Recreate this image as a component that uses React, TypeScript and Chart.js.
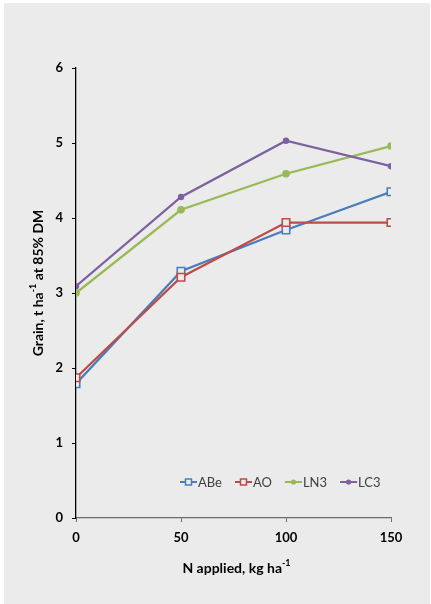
import React, { useEffect, useRef } from 'react';
import { Chart, registerables } from 'chart.js';

Chart.register(...registerables);

// ---- data ----
const nApplied = [0, 50, 100, 150];
const seriesNames = ['ABe', 'AO', 'LN3', 'LC3'];
const abeValues = [1.79, 3.29, 3.84, 4.35];
const aoValues = [1.87, 3.21, 3.94, 3.94];
const ln3Values = [3.0, 4.11, 4.59, 4.96];
const lc3Values = [3.09, 4.28, 5.03, 4.69];
const xTickValues = [0, 50, 100, 150];
const yTickValues = [0, 1, 2, 3, 4, 5, 6];
const yTitleParts = ['Grain, t ha', '-1', ' at 85% DM'];
const xTitleParts = ['N applied, kg ha', '-1', ''];

const seriesColors = ['#4a7ebb', '#be4b48', '#98b954', '#7d60a0'];
const seriesStyles = ['rect', 'rect', 'circle', 'circle'];
const BG = '#eaebea';
const FONT = 'Lato, "Liberation Sans", sans-serif';

function drawParts(ctx: CanvasRenderingContext2D, parts: string[], cx: number, cy: number) {
  const mainFont = `bold 14px ${FONT}`;
  const supFont = `bold 9px ${FONT}`;
  ctx.font = mainFont;
  const w0 = ctx.measureText(parts[0]).width;
  const w2 = ctx.measureText(parts[2]).width;
  ctx.font = supFont;
  const w1 = ctx.measureText(parts[1]).width;
  const total = w0 + w1 + w2;
  let x = cx - total / 2;
  ctx.fillStyle = '#000';
  ctx.textBaseline = 'middle';
  ctx.textAlign = 'left';
  ctx.font = mainFont;
  ctx.fillText(parts[0], x, cy);
  x += w0;
  ctx.font = supFont;
  ctx.fillText(parts[1], x, cy - 5);
  x += w1;
  ctx.font = mainFont;
  ctx.fillText(parts[2], x, cy);
}

const titlePlugin = {
  id: 'customTitles',
  afterDraw(chart: any) {
    const ctx = chart.ctx as CanvasRenderingContext2D;
    const area = chart.chartArea;
    ctx.save();
    drawParts(ctx, xTitleParts, (area.left + area.right) / 2 + 3, area.bottom + 50);
    ctx.translate(38, (area.top + area.bottom) / 2 - 10);
    ctx.rotate(-Math.PI / 2);
    drawParts(ctx, yTitleParts, 0, 0);
    ctx.restore();
  },
};

const legendPlugin = {
  id: 'insideLegend',
  afterDraw(chart: any) {
    const ctx = chart.ctx as CanvasRenderingContext2D;
    const area = chart.chartArea;
    const y = area.bottom - 36;
    let x = area.left + 104;
    ctx.save();
    ctx.font = `13px ${FONT}`;
    ctx.textBaseline = 'middle';
    ctx.textAlign = 'left';
    chart.data.datasets.forEach((ds: any) => {
      const color = ds.borderColor;
      ctx.strokeStyle = color;
      ctx.lineWidth = 2;
      ctx.beginPath();
      ctx.moveTo(x, y);
      ctx.lineTo(x + 17, y);
      ctx.stroke();
      const mx = x + 8.5;
      if (ds.pointStyle === 'rect') {
        ctx.fillStyle = BG;
        ctx.lineWidth = 1.5;
        ctx.fillRect(mx - 3, y - 3, 6, 6);
        ctx.strokeRect(mx - 3, y - 3, 6, 6);
      } else {
        ctx.fillStyle = color;
        ctx.beginPath();
        ctx.arc(mx, y, 2.6, 0, Math.PI * 2);
        ctx.fill();
      }
      ctx.fillStyle = '#404040';
      ctx.fillText(ds.label, x + 18, y + 0.5);
      x += 18 + ctx.measureText(ds.label).width + 13;
    });
    ctx.restore();
  },
};

export default function App() {
  const canvasRef = useRef<HTMLCanvasElement | null>(null);

  useEffect(() => {
    document.body.style.margin = '0';
    const canvas = canvasRef.current;
    if (!canvas) return;
    const allValues = [abeValues, aoValues, ln3Values, lc3Values];
    const datasets = seriesNames.map((name, i) => ({
      label: name,
      data: nApplied.map((x, j) => ({ x, y: allValues[i][j] })),
      borderColor: seriesColors[i],
      backgroundColor: seriesStyles[i] === 'rect' ? BG : seriesColors[i],
      pointBackgroundColor: seriesStyles[i] === 'rect' ? BG : seriesColors[i],
      pointBorderColor: seriesColors[i],
      pointBorderWidth: seriesStyles[i] === 'rect' ? 1.6 : 0,
      pointStyle: seriesStyles[i],
      pointRadius: seriesStyles[i] === 'rect' ? 5.3 : i === 2 ? 3.8 : 3.2,
      borderWidth: 2.25,
      tension: 0,
      order: 4 - i,
    }));

    const chart = new Chart(canvas, {
      type: 'line',
      data: { datasets },
      plugins: [titlePlugin, legendPlugin],
      options: {
        animation: false,
        responsive: false,
        devicePixelRatio: 1,
        layout: { padding: { top: 68, right: 40, left: 0, bottom: 0 } },
        plugins: {
          legend: { display: false },
          tooltip: { enabled: false },
          title: { display: false },
        },
        scales: {
          x: {
            type: 'linear',
            min: 0,
            max: 150,
            afterBuildTicks: (scale: any) => {
              scale.ticks = xTickValues.map((v) => ({ value: v }));
            },
            afterFit: (scale: any) => {
              scale.height = 86;
            },
            grid: {
              display: true,
              drawOnChartArea: false,
              drawTicks: true,
              tickLength: 4,
              color: '#6a6a6a',
              lineWidth: 1,
            },
            border: { display: true, color: '#6a6a6a', width: 1.3 },
            ticks: {
              padding: 8,
              color: '#000',
              font: { family: FONT, size: 13, weight: 'bold' },
              maxRotation: 0,
            },
          },
          y: {
            type: 'linear',
            min: 0,
            max: 6,
            afterBuildTicks: (scale: any) => {
              scale.ticks = yTickValues.map((v) => ({ value: v }));
            },
            afterFit: (scale: any) => {
              scale.width = 76;
            },
            grid: {
              display: true,
              drawOnChartArea: false,
              drawTicks: true,
              tickLength: 4,
              color: '#000',
              lineWidth: 1,
            },
            border: { display: true, color: '#000', width: 1.3 },
            ticks: {
              padding: 9,
              color: '#000',
              font: { family: FONT, size: 13, weight: 'bold' },
            },
          },
        },
      },
    } as any);

    return () => {
      chart.destroy();
    };
  }, []);

  return (
    <div style={{ position: 'relative', width: 431, height: 604, background: '#fff', overflow: 'hidden' }}>
      <div style={{ position: 'absolute', left: 4, top: 3, width: 426, height: 601, background: BG }} />
      <canvas ref={canvasRef} width={431} height={604} style={{ position: 'absolute', left: 0, top: 0, width: 431, height: 604 }} />
    </div>
  );
}
